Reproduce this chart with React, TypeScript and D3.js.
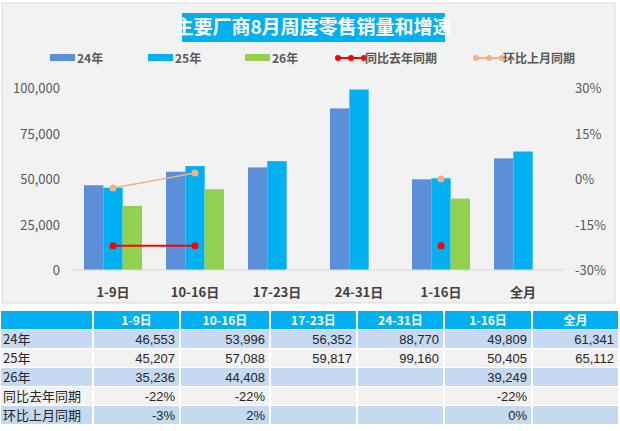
import React from 'react';
import * as d3 from 'd3';

const categories = ['1-9日', '10-16日', '17-23日', '24-31日', '1-16日', '全月'];
const s24 = [46553, 53996, 56352, 88770, 49809, 61341];
const s25 = [45207, 57088, 59817, 99160, 50405, 65112];
const s26: (number | null)[] = [35236, 44408, null, null, 39249, null];
const yoy: (number | null)[] = [-22, -22, null, null, -22, null];
const mom: (number | null)[] = [-3, 2, null, null, 0, null];
const leftTicks = [0, 25000, 50000, 75000, 100000];
const rightTicks = [-30, -15, 0, 15, 30];

const C24 = '#5b8fd8';
const C25 = '#00b0f0';
const C26 = '#92d050';
const CRED = '#ff0000';
const CORG = '#f4b183';
const FONT = '"Microsoft YaHei", "Noto Sans CJK SC", sans-serif';

const App: React.FC = () => {
  const x = d3.scaleBand<string>().domain(categories).range([72, 564]);
  const slot = d3.scaleBand<string>().domain(['24', '25', '26']).range([0, 58]);
  const y = d3.scaleLinear().domain([0, 100000]).range([270, 88]);
  const yr = d3.scaleLinear().domain([-30, 30]).range([270, 88]);
  const cx = (c: string) => (x(c) ?? 0) + x.bandwidth() / 2;
  const gx = (c: string) => cx(c) - 29;

  const segs = (vals: (number | null)[]) => {
    const out: [number, number][][] = [];
    let cur: [number, number][] = [];
    vals.forEach((v, i) => {
      if (v == null) { if (cur.length) out.push(cur); cur = []; }
      else cur.push([cx(categories[i]), yr(v)]);
    });
    if (cur.length) out.push(cur);
    return out;
  };
  const line = d3.line();

  const colX = [0, 93, 180, 270, 357, 444, 532, 619];
  const rowY = [311, 330, 349, 368, 387, 406, 425];
  const fmt = d3.format(',');
  const rows: [string, string[]][] = [
    ['24年', s24.map(fmt)],
    ['25年', s25.map(fmt)],
    ['26年', s26.map(v => (v == null ? '' : fmt(v)))],
    ['同比去年同期', yoy.map(v => (v == null ? '' : v + '%'))],
    ['环比上月同期', mom.map(v => (v == null ? '' : v + '%'))],
  ];

  const legend = [
    { t: '24年', c: C24, x: 50, k: 'bar' },
    { t: '25年', c: C25, x: 148, k: 'bar' },
    { t: '26年', c: C26, x: 245, k: 'bar' },
    { t: '同比去年同期', c: CRED, x: 338, k: 'line' },
    { t: '环比上月同期', c: CORG, x: 476, k: 'line' },
  ];

  return (
    <div style={{ position: 'absolute', left: 0, top: 0 }}>
      <svg width={620} height={431} style={{ display: 'block', fontFamily: FONT }}>
        <rect x={0} y={0} width={620} height={431} fill="#fff" />
        <rect x={2} y={3} width={613} height={300} fill="#f2f2f2" stroke="#d9d9d9" />
        <rect x={182} y={13} width={263} height={29} fill="#00b0f0" />
        <text x={313} y={34} textAnchor="middle" fill="#fff" fontSize={19} fontWeight="bold">主要厂商8月周度零售销量和增速</text>
        {legend.map(l => (
          <g key={l.t}>
            {l.k === 'bar' ? (
              <rect x={l.x} y={54} width={25} height={7} fill={l.c} />
            ) : (
              <g>
                <line x1={l.x} x2={l.x + 26} y1={58} y2={58} stroke={l.c} strokeWidth={2} />
                {[0, 13, 26].map(d => <circle key={d} cx={l.x + d} cy={58} r={3} fill={l.c} />)}
              </g>
            )}
            <text x={l.x + 27} y={63} fontSize={12} fontWeight="bold" fill="#595959">{l.t}</text>
          </g>
        ))}
        {leftTicks.map(t => (
          <text key={t} x={60} y={y(t) + 5} textAnchor="end" fontSize={13} fill="#595959">{fmt(t)}</text>
        ))}
        {rightTicks.map(t => (
          <text key={t} x={575} y={yr(t) + 5} fontSize={13} fill="#595959">{t}%</text>
        ))}
        {categories.map((c, i) => (
          <g key={c}>
            <rect x={gx(c) + (slot('24') ?? 0)} y={y(s24[i])} width={slot.bandwidth()} height={270 - y(s24[i])} fill={C24} />
            <rect x={gx(c) + (slot('25') ?? 0)} y={y(s25[i])} width={slot.bandwidth()} height={270 - y(s25[i])} fill={C25} />
            {s26[i] != null && (
              <rect x={gx(c) + (slot('26') ?? 0)} y={y(s26[i] as number)} width={slot.bandwidth()} height={270 - y(s26[i] as number)} fill={C26} />
            )}
            <text x={cx(c)} y={297} textAnchor="middle" fontSize={13} fontWeight="bold" fill="#404040">{c}</text>
          </g>
        ))}
        <line x1={72} x2={564} y1={270} y2={270} stroke="#d9d9d9" />
        {segs(mom).map((s, i) => (
          <g key={'m' + i}>
            {s.length > 1 && <path d={line(s) ?? ''} stroke={CORG} strokeWidth={1.5} fill="none" />}
            {s.map((p, j) => <circle key={j} cx={p[0]} cy={p[1]} r={3.5} fill={CORG} />)}
          </g>
        ))}
        {segs(yoy).map((s, i) => (
          <g key={'y' + i}>
            {s.length > 1 && <path d={line(s) ?? ''} stroke={CRED} strokeWidth={2} fill="none" />}
            {s.map((p, j) => <circle key={j} cx={p[0]} cy={p[1]} r={3.5} fill={CRED} />)}
          </g>
        ))}
        {/* table */}
        {colX.slice(0, -1).map((x0, ci) => (
          <g key={'h' + ci}>
            <rect x={x0 + 1} y={rowY[0]} width={colX[ci + 1] - x0 - 2} height={rowY[1] - rowY[0] - 1} fill={ci === 0 ? '#00b0f0' : '#00b0f0'} />
            {ci > 0 && (
              <text x={(x0 + colX[ci + 1]) / 2} y={rowY[0] + 14} textAnchor="middle" fill="#fff" fontSize={12} fontWeight="bold">{categories[ci - 1]}</text>
            )}
          </g>
        ))}
        {rows.map(([label, vals], ri) => (
          <g key={label}>
            {colX.slice(0, -1).map((x0, ci) => (
              <rect key={ci} x={x0 + 1} y={rowY[ri + 1]} width={colX[ci + 1] - x0 - 2} height={rowY[ri + 2] - rowY[ri + 1] - 1} fill={ri % 2 === 0 ? '#c5d9f1' : '#f2f2f2'} />
            ))}
            <text x={3} y={rowY[ri + 1] + 14} fontSize={13} fill="#262626">{label}</text>
            {vals.map((v, ci) => (
              <text key={ci} x={colX[ci + 2] - 5} y={rowY[ri + 1] + 14} textAnchor="end" fontSize={13} fill="#262626" fontFamily="'Liberation Sans', Arial, sans-serif">{v}</text>
            ))}
          </g>
        ))}
      </svg>
    </div>
  );
};

export default App;
